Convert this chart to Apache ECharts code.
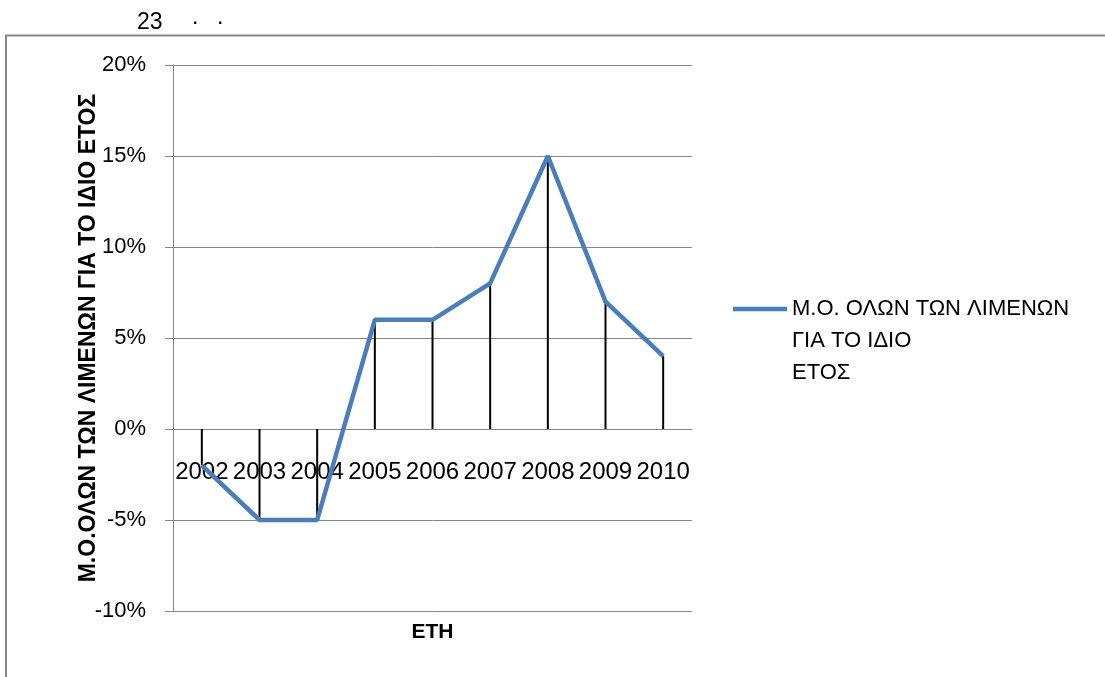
<!DOCTYPE html>
<html>
<head>
<meta charset="utf-8">
<script src="https://cdn.jsdelivr.net/npm/echarts@6/dist/echarts.min.js"></script>
<style>
html,body{margin:0;padding:0;background:#fff;}
#chart{width:1105px;height:677px;}
</style>
</head>
<body>
<div id="chart"></div>
<script>
const categories = ['2002','2003','2004','2005','2006','2007','2008','2009','2010'];
const values = [-2, -5, -5, 6, 6, 8, 15, 7, 4];
const seriesName = 'Μ.Ο. ΟΛΩΝ ΤΩΝ ΛΙΜΕΝΩΝ\nΓΙΑ ΤΟ ΙΔΙΟ\nΕΤΟΣ';
const yAxisTitle = 'Μ.Ο.ΟΛΩΝ ΤΩΝ ΛΙΜΕΝΩΝ ΓΙΑ ΤΟ ΙΔΙΟ ΕΤΟΣ';
const xAxisTitle = 'ΕΤΗ';
const headerText = '23';
const FONT = 'Liberation Sans';

const nameLines = seriesName.split('\n');

const chart = echarts.init(document.getElementById('chart'), null, {renderer: 'canvas'});
chart.setOption({
  animation: false,
  backgroundColor: '#ffffff',
  textStyle: {fontFamily: FONT},
  title: {
    text: headerText, left: 132, top: 6,
    textStyle: {fontFamily: FONT, fontSize: 23, fontWeight: 'normal', color: '#000'}
  },
  graphic: [
    {type: 'polyline', shape: {points: [[6, 677], [6, 35.5], [1105, 35.5]]},
     style: {stroke: '#878787', lineWidth: 2, fill: null}, silent: true},
    {type: 'text', left: 192, top: 6, style: {text: '.', font: '23px "Liberation Sans"', fill: '#000'}},
    {type: 'text', left: 217, top: 6, style: {text: '.', font: '23px "Liberation Sans"', fill: '#000'}},
    {type: 'text', left: 792, top: 325, style: {text: nameLines.slice(1).join('\n'), font: '22px "Liberation Sans"', lineHeight: 32, fill: '#000'}}
  ],
  legend: {
    data: [seriesName],
    left: 733, top: 298, padding: 0,
    itemWidth: 54, itemHeight: 4.5,
    itemGap: 0,
    icon: 'rect',
    itemStyle: {color: '#4A7EBB'},
    formatter: name => name.split('\n')[0],
    textStyle: {fontFamily: FONT, fontSize: 22, color: '#000'}
  },
  grid: {left: 173, right: 413, top: 65, bottom: 66, containLabel: false, outerBoundsMode: 'none'},
  xAxis: {
    type: 'category',
    data: categories,
    boundaryGap: true,
    position: 'bottom',
    offset: -182,
    name: xAxisTitle,
    nameLocation: 'middle',
    nameGap: 193,
    nameMoveOverlap: false,
    nameTextStyle: {fontFamily: FONT, fontSize: 21, fontWeight: 'bold', color: '#000'},
    axisLine: {onZero: false, lineStyle: {color: '#868686', width: 1}},
    axisTick: {show: false},
    axisLabel: {interval: 0, margin: 31, fontFamily: FONT, fontSize: 24, color: '#000'},
    splitLine: {show: false}
  },
  yAxis: {
    type: 'value',
    min: -10, max: 20, interval: 5,
    name: yAxisTitle,
    nameLocation: 'middle',
    nameRotate: 90,
    nameGap: 73,
    nameMoveOverlap: false,
    nameTextStyle: {fontFamily: FONT, fontSize: 23, fontWeight: 'bold', color: '#000'},
    axisLine: {show: true, lineStyle: {color: '#868686', width: 1}},
    axisTick: {show: true, length: 8, lineStyle: {color: '#868686', width: 1}},
    axisLabel: {margin: 27, fontFamily: FONT, fontSize: 22, color: '#000', formatter: v => v + '%'},
    splitLine: {show: true, lineStyle: {color: '#868686', width: 1}}
  },
  series: [
    {
      name: 'drop',
      type: 'bar',
      data: values,
      barWidth: 2,
      itemStyle: {color: '#000'},
      z: 1,
      silent: true
    },
    {
      name: seriesName,
      type: 'line',
      data: values,
      showSymbol: false,
      symbol: 'none',
      lineStyle: {width: 4.5, color: '#4A7EBB'},
      itemStyle: {color: '#4A7EBB'},
      z: 3
    }
  ]
});
</script>
</body>
</html>
